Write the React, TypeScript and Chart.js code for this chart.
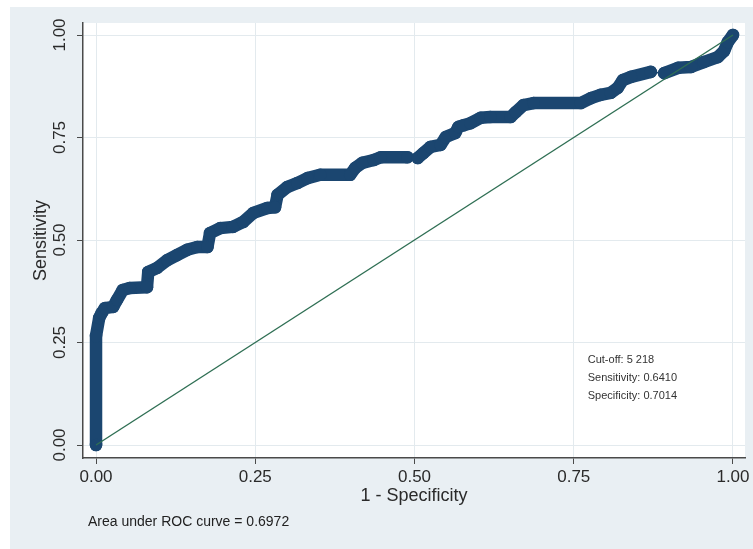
import React, { useEffect, useRef } from "react";
import { Chart, registerables } from "chart.js";

Chart.register(...registerables);

// ROC curve (1 - specificity, sensitivity)
const FPR = [
  0, 0, 0.005, 0.009, 0.014, 0.027, 0.033, 0.042, 0.053, 0.08, 0.082, 0.096, 0.112, 0.127,
  0.143, 0.159, 0.175, 0.179, 0.195, 0.215, 0.231, 0.247, 0.269, 0.281, 0.285, 0.3, 0.316,
  0.332, 0.352, 0.399, 0.407, 0.418, 0.436, 0.447, 0.489, 0.505, 0.514, 0.525, 0.541, 0.549,
  0.564, 0.569, 0.577, 0.588, 0.604, 0.619, 0.651, 0.659, 0.671, 0.687, 0.761, 0.777, 0.792,
  0.808, 0.819, 0.827, 0.84, 0.871, 0.892, 0.914, 0.934, 0.954, 0.976, 0.986, 0.992, 1.0,
];
const TPR = [
  0, 0.266, 0.31, 0.322, 0.334, 0.337, 0.354, 0.378, 0.383, 0.385, 0.422, 0.432, 0.451, 0.463,
  0.476, 0.483, 0.483, 0.517, 0.529, 0.532, 0.544, 0.566, 0.578, 0.58, 0.61, 0.629, 0.639,
  0.651, 0.659, 0.659, 0.676, 0.688, 0.695, 0.702, 0.702, 0.7, 0.712, 0.727, 0.732, 0.751,
  0.761, 0.776, 0.78, 0.785, 0.798, 0.8, 0.8, 0.812, 0.829, 0.834, 0.834, 0.846, 0.854,
  0.859, 0.871, 0.89, 0.898, 0.91, 0.907, 0.92, 0.922, 0.934, 0.946, 0.961, 0.983, 1.0,
];
// points after which the curve has a sparse stretch (only the thin connector shows)
const GAP_START_FPR = [0.489, 0.871];

const DIAG_X = [0, 1];
const DIAG_Y = [0, 1];

const TICK_VALUES = [0, 0.25, 0.5, 0.75, 1];
const X_TITLE = "1 - Specificity";
const Y_TITLE = "Sensitivity";
const AUC_NOTE = "Area under ROC curve = 0.6972";
const CUTOFF_NOTES = ["Cut-off: 5 218", "Sensitivity: 0.6410", "Specificity: 0.7014"];
const CUTOFF_NOTE_POS = { x: 0.772, y: [0.207, 0.163, 0.12] };

const NAVY = "#1b4670";
const GREEN = "#2f6f54";
const BG = "#e9eff3";
const GRID = "#e3eaee";
const AXIS = "#4a4a4a";
const FONT = "'Liberation Sans', Arial, sans-serif";

const backgroundPlugin = {
  id: "stataBackground",
  beforeDraw(chart: any) {
    const { ctx, width, height, chartArea } = chart;
    ctx.save();
    ctx.fillStyle = "#ffffff";
    ctx.fillRect(0, 0, width, height);
    ctx.fillStyle = BG;
    ctx.fillRect(10, 7, width - 10, height - 7);
    ctx.fillStyle = "#ffffff";
    ctx.fillRect(chartArea.left, chartArea.top, chartArea.right - chartArea.left, chartArea.bottom - chartArea.top);
    ctx.restore();
  },
  afterDraw(chart: any) {
    const { ctx } = chart;
    const xs = chart.scales.x;
    const ys = chart.scales.y;
    ctx.save();
    ctx.fillStyle = "#333333";
    ctx.textBaseline = "middle";
    ctx.textAlign = "left";
    ctx.font = `11px ${FONT}`;
    CUTOFF_NOTES.forEach((t, i) => {
      ctx.fillText(t, xs.getPixelForValue(CUTOFF_NOTE_POS.x), ys.getPixelForValue(CUTOFF_NOTE_POS.y[i]));
    });
    ctx.fillStyle = "#222222";
    ctx.font = `14px ${FONT}`;
    ctx.fillText(AUC_NOTE, 88, 522);
    ctx.restore();
  },
};

export default function App() {
  const ref = useRef<HTMLCanvasElement | null>(null);

  useEffect(() => {
    document.body.style.margin = "0";
    const canvas = ref.current;
    if (!canvas) return;
    const curve = FPR.map((x, i) => ({ x, y: TPR[i] }));
    const diag = DIAG_X.map((x, i) => ({ x, y: DIAG_Y[i] }));
    const setTicks = (scale: any) => {
      scale.ticks = TICK_VALUES.map((v) => ({ value: v }));
    };
    const chart = new Chart(canvas, {
      type: "scatter",
      data: {
        datasets: [
          {
            label: "Reference",
            data: diag,
            showLine: true,
            borderColor: GREEN,
            borderWidth: 1.4,
            pointRadius: 0,
            order: 0,
          },
          {
            label: "ROC",
            data: curve,
            showLine: true,
            borderColor: NAVY,
            backgroundColor: NAVY,
            borderWidth: 12.5,
            borderCapStyle: "round",
            borderJoinStyle: "round",
            pointRadius: 6.3,
            pointBorderWidth: 0,
            pointBackgroundColor: NAVY,
            order: 1,
            segment: {
              borderWidth: (ctx: any) =>
                GAP_START_FPR.includes(FPR[ctx.p0DataIndex]) ? 1.5 : 12.5,
            },
          } as any,
        ],
      },
      options: {
        responsive: false,
        animation: false,
        devicePixelRatio: 1,
        layout: { padding: { left: 0, top: 23, right: 8, bottom: 0 } },
        plugins: {
          legend: { display: false },
          tooltip: { enabled: false },
        },
        scales: {
          x: {
            type: "linear",
            min: -13 / 636,
            max: 1 + 12 / 636,
            afterBuildTicks: setTicks,
            afterFit: (s: any) => {
              s.height = 91;
            },
            border: { color: AXIS, width: 1.5 },
            grid: { color: GRID, lineWidth: 1, tickLength: 6, tickColor: AXIS },
            ticks: {
              color: "#2a2a2a",
              font: { family: FONT, size: 17 },
              padding: 3,
              maxRotation: 0,
              minRotation: 0,
              callback: (v: any) => Number(v).toFixed(2),
            },
            title: {
              display: true,
              text: X_TITLE,
              color: "#2a2a2a",
              font: { family: FONT, size: 18 },
              padding: { top: 0, bottom: 42 },
            },
          },
          y: {
            type: "linear",
            min: -13 / 410,
            max: 1 + 12 / 410,
            afterBuildTicks: setTicks,
            afterFit: (s: any) => {
              s.width = 83;
            },
            border: { color: AXIS, width: 1.5 },
            grid: { color: GRID, lineWidth: 1, tickLength: 6, tickColor: AXIS },
            ticks: {
              color: "#2a2a2a",
              font: { family: FONT, size: 17 },
              padding: 0,
              minRotation: 90,
              maxRotation: 90,
              crossAlign: "center",
              callback: (v: any) => Number(v).toFixed(2),
            },
            title: {
              display: true,
              text: Y_TITLE,
              color: "#2a2a2a",
              font: { family: FONT, size: 18 },
              padding: { top: 30, bottom: 0 },
            },
          },
        },
      },
      plugins: [backgroundPlugin],
    });
    return () => chart.destroy();
  }, []);

  return (
    <div style={{ position: "absolute", left: 0, top: 0, width: 753, height: 549 }}>
      <canvas ref={ref} width={753} height={549} style={{ width: 753, height: 549 }} />
    </div>
  );
}
